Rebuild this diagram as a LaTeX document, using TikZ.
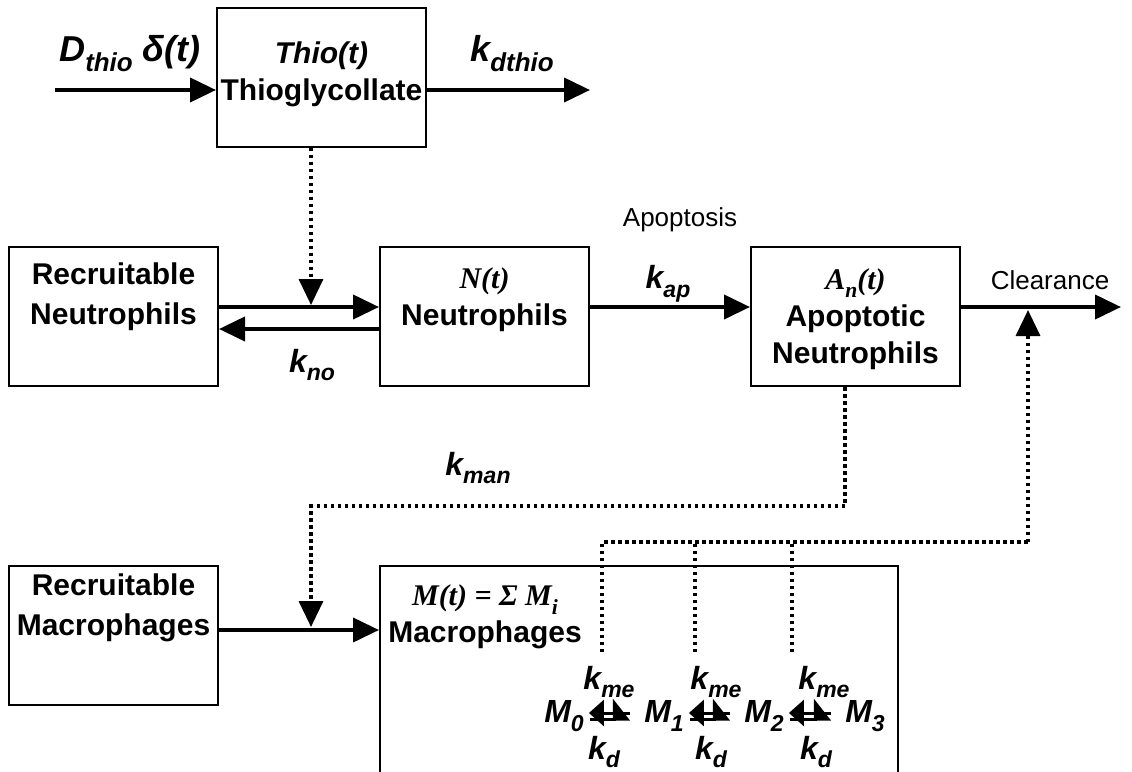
\documentclass[tikz,border=0pt]{standalone}
\usepackage{fontspec}
\setmainfont{Liberation Sans}
\newfontfamily\tms{Liberation Serif}
\usetikzlibrary{arrows.meta}
\newcommand\lsub[1]{\raisebox{-0.28em}{\scalebox{0.72}{#1}}}
\begin{document}
\begin{tikzpicture}[x=1pt,y=-1pt,
  box/.style={draw, line width=2pt, minimum width=209pt, minimum height=139pt, inner sep=0pt},
  btxt/.style={font=\fontsize{30}{37}\selectfont\bfseries, align=center, inner sep=0pt},
  lab/.style={font=\fontsize{32}{36}\selectfont\bfseries\itshape, inner sep=0pt},
  biglab/.style={font=\fontsize{36}{40}\selectfont\bfseries\itshape, inner sep=0pt},
  reg/.style={font=\fontsize{26}{30}\selectfont, inner sep=0pt},
  flow/.style={line width=4pt, -{Triangle[length=26pt,width=24pt]}},
  dots/.style={line width=3.5pt, dash pattern=on 3.5pt off 3.5pt},
  dotflow/.style={dots, -{Triangle[length=26pt,width=24pt]}},
  fwd/.style={line width=3pt, -{Triangle[length=16pt,width=40pt,left]}},
  bwd/.style={line width=3pt, -{Triangle[length=15pt,width=26pt]}}
]
\clip (0,0) rectangle (1132,771);
% boxes
\node[box] (thio) at (321.5,77) {};
\node[btxt] (thiot) at (321.5,74) {\textit{Thio(t)}\\Thioglycollate};
\node[box] (rn) at (113.5,316.5) {};
\node[btxt] (rnt) at (113.5,297) {Recruitable\\[3pt]Neutrophils};
\node[box] (n) at (484.5,316.5) {};
\node[btxt] (nt) at (484.5,300) {{\tms\bfseries\itshape N(t)}\\Neutrophils};
\node[box] (ap) at (855.5,316.5) {};
\node[btxt] (apt) at (855.5,319) {{\tms\bfseries\itshape A\lsub{n}(t)}\\Apoptotic\\Neutrophils};
\node[box] (rm) at (113.5,635) {};
\node[btxt] (rmt) at (113.5,608) {Recruitable\\[3pt]Macrophages};
\node[box, minimum width=518pt, minimum height=234pt] (mac) at (639,683) {};
\node[btxt] (mact) at (485,617) {{\tms\bfseries\itshape M(t) = Σ M\lsub{i}}\\Macrophages};
% thio inputs/outputs
\coordinate (inS) at (55,90);
\coordinate (outE) at (590,90);
\draw[flow] (inS) -- (inS -| thio.west);
\draw[flow] (thio.east |- outE) -- (outE);
\node[biglab] (dlab) at (130,54) {D\lsub{thio} δ(t)};
\node[biglab] (kdlab) at (512,54) {k\lsub{dthio}};
% neutrophil exchange
\coordinate (fy) at (0,307);
\coordinate (by) at (0,329);
\draw[flow] (rn.east |- fy) -- (n.west |- fy);
\draw[flow] (n.west |- by) -- (rn.east |- by);
\coordinate (j1) at (311,305);
\draw[dotflow] (thio.south -| j1) -- (j1);
\node[lab] (kno) at (312,365) {k\lsub{no}};
% apoptosis
\draw[flow] (n.east |- fy) -- (ap.west |- fy);
\node[lab] (kap) at (668,284) {k\lsub{ap}};
\node[reg] (apop) at (680,220) {Apoptosis};
\coordinate (clrE) at (1121,307);
\draw[flow] (ap.east |- clrE) -- (clrE);
\node[reg] (clr) at (1050,280) {Clearance};
% macrophage recruitment
\coordinate (my) at (0,630);
\draw[flow] (rm.east |- my) -- (mac.west |- my);
\coordinate (c1) at (845,506);
\coordinate (c2) at (311,506);
\coordinate (j2) at (311,627);
\draw[dotflow] (ap.south -| c1) -- (c1) -- (c2) -- (j2);
\node[lab] (kman) at (478,468) {k\lsub{man}};
% macrophage clearance
\coordinate (v1) at (602,542);
\coordinate (v2) at (695,542);
\coordinate (v3) at (792,542);
\coordinate (d1) at (602,652);
\coordinate (d2) at (695,652);
\coordinate (d3) at (792,652);
\coordinate (cc) at (1028,542);
\coordinate (j3) at (1028,310);
\draw[dots] (d1) -- (v1) -- (cc);
\draw[dotflow] (cc) -- (j3);
\draw[dots] (d2) -- (v2);
\draw[dots] (d3) -- (v3);
% macrophage maturation chain
\node[lab] (m0) at (564,716) {M\lsub{0}};
\node[lab] (m1) at (664,716) {M\lsub{1}};
\node[lab] (m2) at (764,716) {M\lsub{2}};
\node[lab] (m3) at (865,716) {M\lsub{3}};
\draw[fwd] ([xshift=6pt,yshift=-3pt]m0.east) -- ([xshift=-14pt,yshift=-3pt]m1.west);
\draw[bwd] ([xshift=-14pt,yshift=3pt]m1.west) -- ([xshift=5pt,yshift=3pt]m0.east);
\draw[fwd] ([xshift=6pt,yshift=-3pt]m1.east) -- ([xshift=-14pt,yshift=-3pt]m2.west);
\draw[bwd] ([xshift=-14pt,yshift=3pt]m2.west) -- ([xshift=5pt,yshift=3pt]m1.east);
\draw[fwd] ([xshift=6pt,yshift=-3pt]m2.east) -- ([xshift=-14pt,yshift=-3pt]m3.west);
\draw[bwd] ([xshift=-14pt,yshift=3pt]m3.west) -- ([xshift=5pt,yshift=3pt]m2.east);
\node[lab] (kme0) at (609,682) {k\lsub{me}};
\node[lab] (kme1) at (716,682) {k\lsub{me}};
\node[lab] (kme2) at (824,682) {k\lsub{me}};
\node[lab] (kd0) at (604,752) {k\lsub{d}};
\node[lab] (kd1) at (711,752) {k\lsub{d}};
\node[lab] (kd2) at (816,752) {k\lsub{d}};
\end{tikzpicture}
\end{document}
